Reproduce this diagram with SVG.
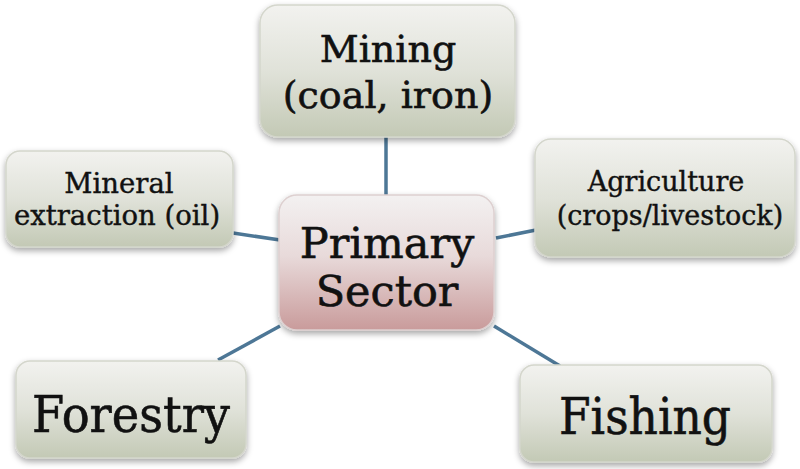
<svg xmlns="http://www.w3.org/2000/svg" width="800" height="469" viewBox="0 0 800 469">
<defs>
<linearGradient id="gGreen" x1="0" y1="0" x2="0" y2="1">
<stop offset="0" stop-color="#f2f2ef"/>
<stop offset="0.5" stop-color="#e0e2d9"/>
<stop offset="1" stop-color="#c3c9b5"/>
</linearGradient>
<linearGradient id="gPink" x1="0" y1="0" x2="0" y2="1">
<stop offset="0" stop-color="#f3f1f1"/>
<stop offset="0.45" stop-color="#e8dada"/>
<stop offset="1" stop-color="#c99b9b"/>
</linearGradient>
<filter id="sh" x="-10%" y="-10%" width="120%" height="130%">
<feDropShadow dx="0" dy="3" stdDeviation="3" flood-color="#000" flood-opacity="0.35"/>
</filter>
</defs>
<style>
.box{fill:url(#gGreen);stroke:#d4d6cc;stroke-width:1.5;filter:url(#sh)}
.center{fill:url(#gPink);stroke:#ddd0d0;stroke-width:1.5;filter:url(#sh)}
text{font-family:"DejaVu Serif","Liberation Serif",serif;fill:#111;stroke:#111;stroke-width:0.6;text-anchor:middle}
.sm{stroke-width:0.4}
.con line{stroke:#4d7796;stroke-width:3.5;stroke-linecap:butt}
</style>
<g class="con" id="connectors">
<line x1="386" y1="137" x2="386" y2="196"/>
<line x1="233" y1="233" x2="280" y2="240"/>
<line x1="496" y1="238" x2="536" y2="230"/>
<line x1="218" y1="360" x2="280" y2="326"/>
<line x1="494" y1="326" x2="560" y2="366"/>
</g>
<g id="mining">
<rect class="box" x="260" y="5" width="255" height="132" rx="18"/>
<text x="388" y="62" font-size="38">Mining</text>
<text x="388" y="108" font-size="38">(coal, iron)</text>
</g>
<g id="mineral">
<rect class="box" x="6" y="151" width="227" height="96" rx="14"/>
<text class="sm" x="119" y="193" font-size="27.5">Mineral</text>
<text class="sm" x="117" y="225" font-size="27.5">extraction (oil)</text>
</g>
<g id="agriculture">
<rect class="box" x="535" y="139" width="260" height="118" rx="16"/>
<text class="sm" x="666" y="191" font-size="27">Agriculture</text>
<text class="sm" x="670" y="225" font-size="27">(crops/livestock)</text>
</g>
<g id="primary">
<rect class="center" x="279" y="195" width="215" height="135" rx="18"/>
<text x="387" y="258" font-size="43">Primary</text>
<text x="387" y="306" font-size="43">Sector</text>
</g>
<g id="forestry">
<rect class="box" x="16" y="361" width="230" height="97" rx="14"/>
<text x="131" y="432" font-size="50" textLength="198" lengthAdjust="spacingAndGlyphs">Forestry</text>
</g>
<g id="fishing">
<rect class="box" x="520" y="365" width="252" height="97" rx="14"/>
<text x="645" y="434" font-size="50" textLength="172" lengthAdjust="spacingAndGlyphs">Fishing</text>
</g>
</svg>
